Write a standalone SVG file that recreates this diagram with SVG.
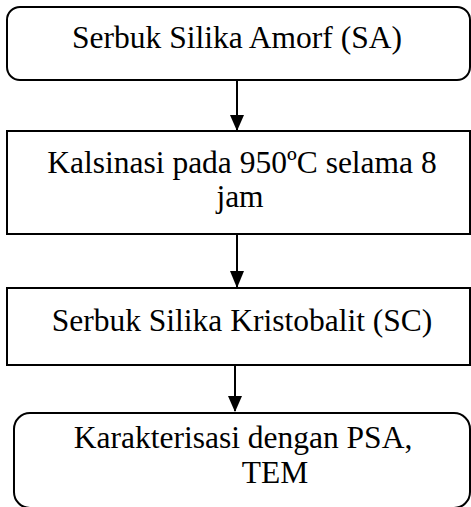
<svg xmlns="http://www.w3.org/2000/svg" width="471" height="507" viewBox="0 0 471 507">
  <style>
    .box { fill: #ffffff; stroke: #000000; stroke-width: 2; }
    .label { font-family: 'Liberation Serif', 'Times New Roman', serif; font-size: 31.5px; fill: #000000; text-anchor: middle; }
    .edge { stroke: #000000; stroke-width: 2; fill: none; }
  </style>
  <rect width="471" height="507" fill="#ffffff"/>

  <g id="connectors">
    <line class="edge" x1="237" y1="80" x2="237" y2="130"/>
    <path d="M230,115 L244,115 L237,131 Z" fill="#000000"/>
    <line class="edge" x1="237" y1="234" x2="237" y2="287"/>
    <path d="M230,271 L244,271 L237,288 Z" fill="#000000"/>
    <line class="edge" x1="235" y1="361" x2="235" y2="411"/>
    <path d="M228,396 L242,396 L235,412 Z" fill="#000000"/>
  </g>

  <g id="node-sa">
    <rect class="box" x="7" y="7" width="463" height="73" rx="13" ry="13"/>
    <text class="label" x="237" y="48">Serbuk Silika Amorf (SA)</text>
  </g>

  <g id="node-kalsinasi">
    <rect class="box" x="7" y="131" width="463" height="103"/>
    <text class="label" x="242" y="173">Kalsinasi pada 950ºC selama 8</text>
    <text class="label" x="240" y="207">jam</text>
  </g>

  <g id="node-sc">
    <rect class="box" x="7" y="288" width="463" height="77"/>
    <text class="label" x="242" y="331">Serbuk Silika Kristobalit (SC)</text>
  </g>

  <g id="node-karakterisasi">
    <rect class="box" x="14" y="413" width="456" height="95" rx="16" ry="16"/>
    <text class="label" x="243" y="448">Karakterisasi dengan PSA,</text>
    <text class="label" x="275" y="483">TEM</text>
  </g>
</svg>
